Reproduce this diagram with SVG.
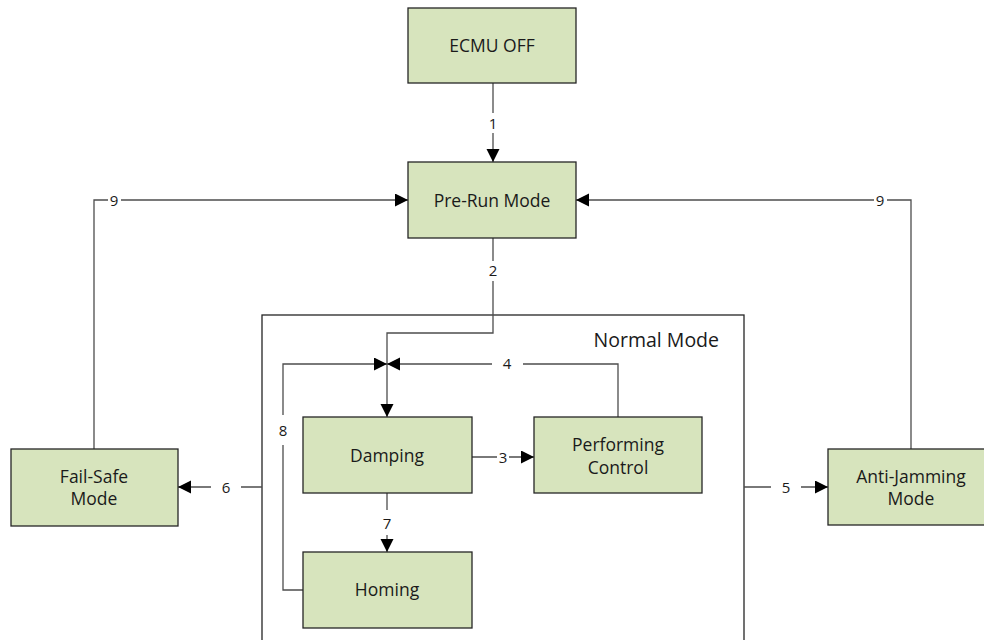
<svg xmlns="http://www.w3.org/2000/svg" width="984" height="640" viewBox="0 0 984 640">
  <style>
    .node { fill: #D7E4BD; stroke: #262626; stroke-width: 1.3; }
    .txt { font-family: "Open Sans", "Liberation Sans", sans-serif; font-size: 17.5px; fill: #1a1a1a; text-anchor: middle; }
    .lbl { font-family: "Open Sans", "Liberation Sans", sans-serif; font-size: 15px; fill: #1a1a1a; text-anchor: middle; }
    .conn { fill: none; stroke: #4d4d4d; stroke-width: 1.3; }
    .gap { fill: #ffffff; }
  </style>
  <defs>
    <marker id="arr" markerWidth="14" markerHeight="14" refX="13" refY="6.5" orient="auto" markerUnits="userSpaceOnUse">
      <path d="M0,0 L13,6.5 L0,13 Z" fill="#000"/>
    </marker>
  </defs>
  <rect width="984" height="640" fill="#fff"/>

  <g id="normal-mode">
    <rect x="262" y="315" width="482" height="340" fill="none" stroke="#262626" stroke-width="1.3"/>
    <text class="txt" x="719" y="347" style="text-anchor:end;font-size:19.5px">Normal Mode</text>
  </g>

  <g id="connectors">
    <path class="conn" d="M493,83 V162" marker-end="url(#arr)"/>
    <path class="conn" d="M493,238 V333 H387 V417" marker-end="url(#arr)"/>
    <path class="conn" d="M303,590 H283 V364 H387" marker-end="url(#arr)"/>
    <path class="conn" d="M618,417 V364 H387" marker-end="url(#arr)"/>
    <path class="conn" d="M472,457 H534" marker-end="url(#arr)"/>
    <path class="conn" d="M387,493 V552" marker-end="url(#arr)"/>
    <path class="conn" d="M262,487 H178" marker-end="url(#arr)"/>
    <path class="conn" d="M744,487 H828" marker-end="url(#arr)"/>
    <path class="conn" d="M94,449 V200 H408" marker-end="url(#arr)"/>
    <path class="conn" d="M911,449 V200 H576" marker-end="url(#arr)"/>
  </g>

  <g id="labels">
    <rect class="gap" x="485" y="113" width="16" height="20"/>
    <text class="lbl" x="493" y="129">1</text>
    <rect class="gap" x="485" y="261" width="16" height="20"/>
    <text class="lbl" x="493" y="276">2</text>
    <rect class="gap" x="108" y="192" width="13" height="16"/>
    <text class="lbl" x="114" y="206">9</text>
    <rect class="gap" x="874" y="192" width="13" height="16"/>
    <text class="lbl" x="880" y="206">9</text>
    <rect class="gap" x="492" y="356" width="31" height="16"/>
    <text class="lbl" x="507" y="369">4</text>
    <rect class="gap" x="275" y="415" width="16" height="30"/>
    <text class="lbl" x="283" y="436">8</text>
    <rect class="gap" x="379" y="510" width="16" height="25"/>
    <text class="lbl" x="387" y="529">7</text>
    <rect class="gap" x="497" y="449" width="12" height="16"/>
    <text class="lbl" x="503" y="463">3</text>
    <rect class="gap" x="211" y="479" width="30" height="16"/>
    <text class="lbl" x="226" y="493">6</text>
    <rect class="gap" x="771" y="479" width="30" height="16"/>
    <text class="lbl" x="786" y="493">5</text>
  </g>

  <g id="ecmu-off">
    <rect class="node" x="408" y="8" width="168" height="75"/>
    <text class="txt" x="492" y="52">ECMU OFF</text>
  </g>
  <g id="pre-run-mode">
    <rect class="node" x="408" y="162" width="168" height="76"/>
    <text class="txt" x="492" y="207">Pre-Run Mode</text>
  </g>
  <g id="damping">
    <rect class="node" x="303" y="417" width="169" height="76"/>
    <text class="txt" x="387" y="462">Damping</text>
  </g>
  <g id="performing-control">
    <rect class="node" x="534" y="417" width="168" height="76"/>
    <text class="txt" x="618" y="451">Performing</text>
    <text class="txt" x="618" y="474">Control</text>
  </g>
  <g id="homing">
    <rect class="node" x="303" y="552" width="169" height="76"/>
    <text class="txt" x="387" y="596">Homing</text>
  </g>
  <g id="fail-safe-mode">
    <rect class="node" x="11" y="449" width="167" height="77"/>
    <text class="txt" x="94" y="483">Fail-Safe</text>
    <text class="txt" x="94" y="505">Mode</text>
  </g>
  <g id="anti-jamming-mode">
    <rect class="node" x="828" y="449" width="167" height="76"/>
    <text class="txt" x="911" y="483">Anti-Jamming</text>
    <text class="txt" x="911" y="505">Mode</text>
  </g>
</svg>
